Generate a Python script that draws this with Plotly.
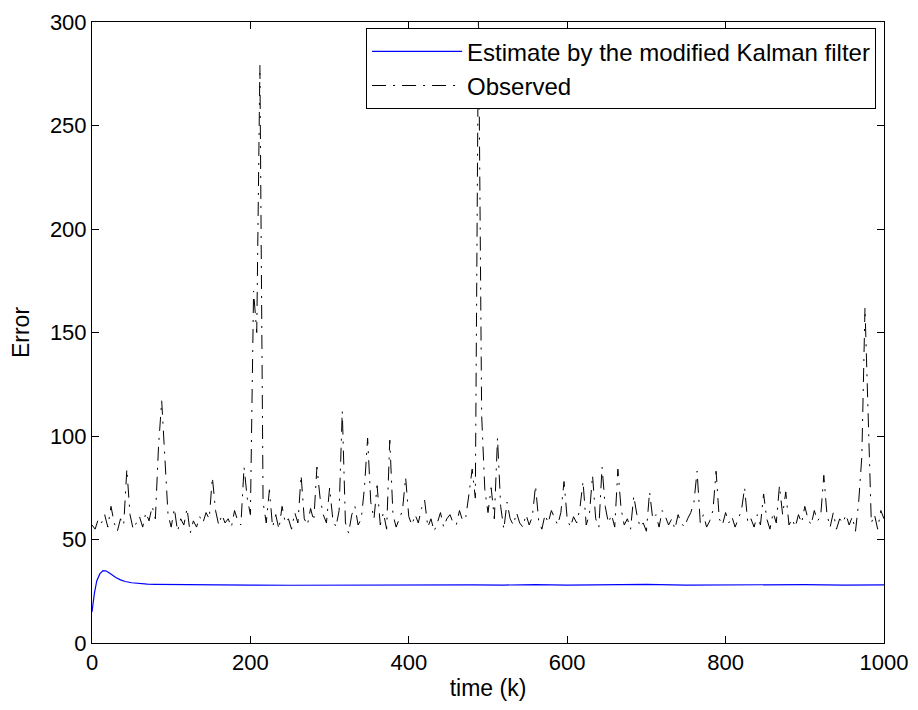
import plotly.graph_objects as go

# 估计曲线（修正卡尔曼滤波）
est_k = [0, 3, 6, 10, 14, 18, 22, 26, 30, 36, 42, 50, 60, 70, 80, 100, 130, 160, 200,
         250, 300, 350, 400, 440, 480, 520, 560, 600, 650, 700, 750, 800, 850, 900, 950, 1000]
est_err = [15, 24, 30, 33.5, 35, 34.8, 33.8, 32.6, 31.6, 30.5, 29.7, 29.1, 28.7, 28.4, 28.3, 28.2,
           28.0, 27.9, 28.0, 27.9, 28.0, 28.0, 28.1, 28.3, 28.1, 28.0, 28.2, 28.0, 28.1, 28.3, 28.0,
           28.1, 27.9, 28.2, 28.0, 28.1]

# 观测误差，每4步一个点
obs_k = list(range(0, 1001, 4))
obs_err = [
    57, 55, 60, 58, 62, 56, 66, 58, 54, 60, 57, 84, 62, 55, 58, 61, 56, 63, 59, 66,
    60, 95, 117, 88, 62, 56, 65, 54, 60, 57, 65, 53, 59, 56, 61, 58, 63, 60, 80, 64,
    57, 62, 58, 60, 56, 64, 59, 57, 85, 70, 62, 170, 150, 279, 68, 58, 74, 56, 62, 55,
    66, 58, 60, 55, 63, 58, 81, 60, 57, 65, 59, 85, 70, 62, 58, 75, 60, 56, 64, 112,
    58, 53, 62, 66, 57, 60, 75, 99, 68, 60, 76, 57, 63, 55, 98, 62, 56, 60, 64, 80,
    61, 57, 62, 58, 65, 69, 56, 60, 54, 58, 63, 56, 60, 62, 58, 57, 64, 59, 61, 72,
    84, 70, 305, 110, 74, 63, 75, 60, 99, 66, 55, 68, 60, 57, 63, 58, 56, 62, 57, 61,
    76, 59, 55, 62, 58, 64, 60, 57, 63, 78, 60, 56, 61, 58, 65, 78, 57, 62, 81, 60,
    56, 85, 66, 58, 62, 56, 84, 65, 57, 60, 55, 71, 62, 56, 58, 54, 73, 60, 62, 56,
    64, 61, 57, 60, 55, 62, 58, 56, 60, 63, 68, 83, 58, 62, 56, 59, 64, 83, 60, 57,
    63, 58, 61, 56, 60, 64, 75, 58, 60, 56, 62, 57, 72, 60, 55, 63, 58, 76, 62, 73,
    57, 60, 56, 62, 58, 66, 60, 57, 64, 59, 61, 81, 62, 56, 63, 55, 60, 58, 62, 57,
    61, 54, 68, 90, 162, 110, 58, 62, 55, 64, 60,
]

FONT = "Liberation Sans, Arial, Helvetica, sans-serif"

fig = go.Figure()

fig.add_trace(go.Scatter(
    x=est_k, y=est_err, mode="lines",
    name="Estimate by the modified Kalman filter",
    line=dict(color="#0000ff", width=1.2),
))

fig.add_trace(go.Scatter(
    x=obs_k, y=obs_err, mode="lines",
    name="Observed",
    line=dict(color="black", width=1, dash="14px,7px,2px,7px"),
))

axis_style = dict(
    showline=True, linecolor="black", linewidth=1, mirror="ticks",
    ticks="inside", ticklen=7, tickcolor="black",
    showgrid=False, zeroline=False,
    automargin=False, ticklabeloverflow="allow",
    tickfont=dict(family=FONT, size=22, color="black"),
)

fig.update_xaxes(range=[0, 1000], dtick=200,
                 title=dict(text="time (k)", font=dict(family=FONT, size=23, color="black"), standoff=5),
                 **axis_style)
fig.update_yaxes(range=[0, 300], dtick=50,
                 title=dict(text="Error", font=dict(family=FONT, size=23, color="black"), standoff=20),
                 **axis_style)

# 页面 body 有 8px 边距，图尺寸相应缩小
fig.update_layout(
    width=902, height=694,
    margin=dict(l=84, r=26, t=14, b=59),
    plot_bgcolor="white", paper_bgcolor="white",
    font=dict(family=FONT, size=23, color="black"),
    showlegend=True,
    legend=dict(
        x=0.99, y=0.99, xanchor="right", yanchor="top",
        bgcolor="white", bordercolor="black", borderwidth=1,
        font=dict(family=FONT, size=24, color="black"),
        itemwidth=90, tracegroupgap=0,
    ),
)

fig.write_html("out.html")
